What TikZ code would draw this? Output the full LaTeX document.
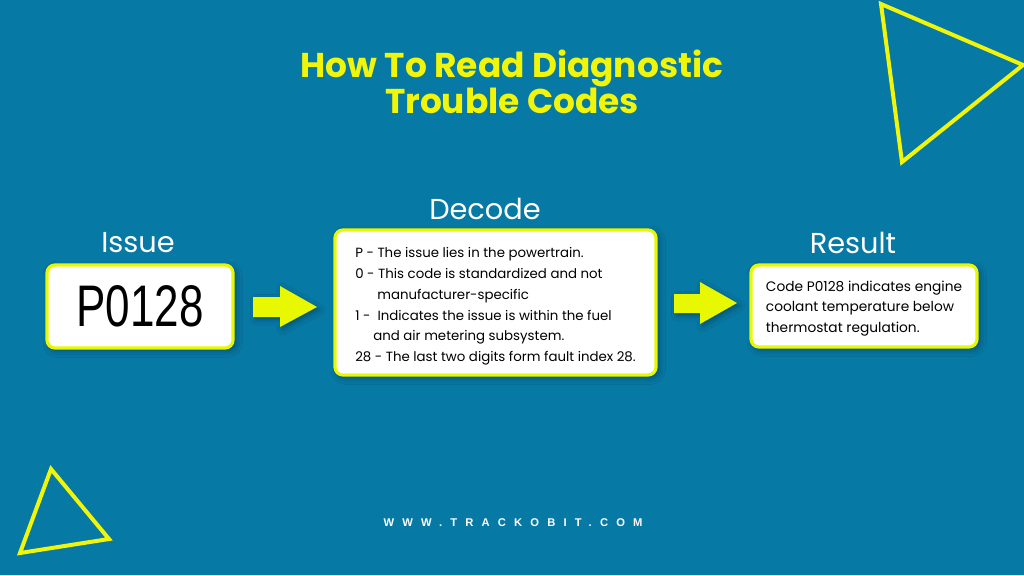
\documentclass[tikz,border=0pt]{standalone}
\usepackage{fontspec}
\setmainfont{Poppins}
\newfontfamily\lcdfont[FakeStretch=0.75]{Liberation Sans}
\newfontfamily\webfont[LetterSpace=73]{Liberation Sans}
\usetikzlibrary{shadows.blur}
\definecolor{bgblue}{RGB}{7,121,165}
\definecolor{lime}{RGB}{232,248,0}
\definecolor{titleyellow}{RGB}{240,245,10}
\tikzset{
  card/.style={draw=lime, fill=white, line width=2.4pt, rounded corners=6pt, inner sep=0pt,
    blur shadow={shadow xshift=2pt, shadow yshift=-2pt, shadow blur radius=5pt, shadow opacity=35}},
  heading/.style={text=white, anchor=base, font=\fontsize{21.6}{26}\selectfont},
  bodytext/.style={align=left, font=\fontsize{10.3}{15.4}\selectfont},
  blockarrow/.style={fill=lime,
    blur shadow={shadow xshift=2pt, shadow yshift=-2pt, shadow blur radius=4pt, shadow opacity=30}},
  triangle/.style={draw=titleyellow, line width=3pt}
}
\begin{document}
\begin{tikzpicture}[x=0.75pt,y=-0.75pt]
  \useasboundingbox (0,0) rectangle (1024,575);
  \fill[bgblue] (0,0) rectangle (1024,575);
  \draw[triangle] (881,4) -- (1023,65) -- (902,162) -- cycle;
  \draw[triangle] (51,469) -- (109,539) -- (20,553) -- cycle;
  \node[text=titleyellow, align=center, font=\fontsize{25.8}{27}\selectfont\bfseries]
    (title) at (512,82) {How To Read Diagnostic\\Trouble Codes};
  \node[heading] (issue) at (138,252) {Issue};
  \node[heading] (decode) at (485,219) {Decode};
  \node[heading] (result) at (853,253) {Result};
  \node[card, minimum width=139.5pt, minimum height=62.25pt, font=\lcdfont\fontsize{44}{44}\selectfont]
    (issuebox) at (140,306.5) {P0128};
  \node[card, bodytext, font=\fontsize{10}{15.6}\selectfont, minimum width=240.75pt, minimum height=108.75pt]
    (decodebox) at (495.5,302.5) {\rule{0pt}{13.5pt}P - The issue lies in the powertrain.\\
      0 - This code is standardized and not\\
      \hspace*{16.5pt}manufacturer-specific\\
      1 -\ \ Indicates the issue is within the fuel\\
      \hspace*{13.5pt}and air metering subsystem.\\
      28 - The last two digits form fault index 28.};
  \node[card, bodytext, minimum width=169.5pt, minimum height=61.5pt]
    (resultbox) at (864,306) {\rule{0pt}{11.5pt}Code P0128 indicates engine\\
      coolant temperature below\\
      thermostat regulation.};
  \fill[blockarrow] (253,297) -- (280,297) -- (280,286) -- (317,307)
    -- (280,327) -- (280,317) -- (253,317) -- cycle;
  \fill[blockarrow] (674,294) -- (700,294) -- (700,282) -- (737,303)
    -- (700,324) -- (700,313) -- (674,313) -- cycle;
  \node[text=white, anchor=base, font=\webfont\bfseries\fontsize{8.4}{10}\selectfont]
    (web) at (513,526) {WWW.TRACKOBIT.COM};
\end{tikzpicture}
\end{document}
